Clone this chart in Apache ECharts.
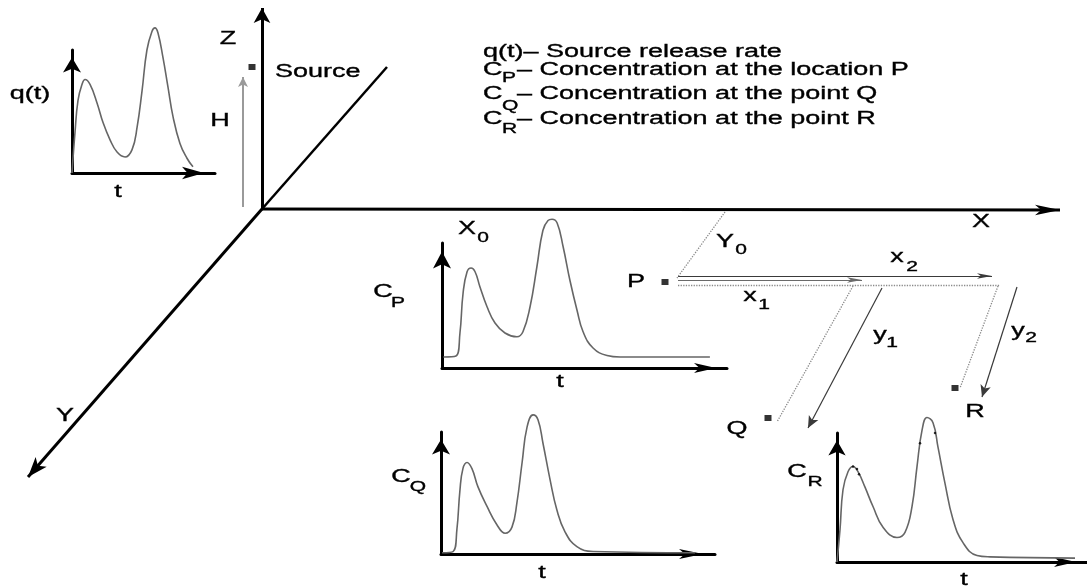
<!DOCTYPE html>
<html>
<head>
<meta charset="utf-8">
<script src="https://cdn.jsdelivr.net/npm/echarts@6/dist/echarts.min.js"></script>
<style>
  html, body { margin: 0; padding: 0; background: #fff; }
  #chart { width: 1087px; height: 586px; }
</style>
</head>
<body>
<div id="chart"></div>
<script>
// ---- Time histories (t in arbitrary units, amplitude normalised) ----
// Source release rate q(t)
const qTime = [0, 0.21, 0.42, 0.70, 0.91, 1.26, 1.75, 2.17, 2.66, 3.15, 3.71, 4.20, 4.55, 4.90, 5.24, 5.59, 5.80, 6.01, 6.36, 6.71, 7.06, 7.55, 8.04, 8.46];
const qRate = [0, 0.33, 0.59, 0.72, 0.76, 0.72, 0.57, 0.41, 0.27, 0.17, 0.13, 0.19, 0.37, 0.67, 1.00, 1.15, 1.18, 1.14, 0.94, 0.70, 0.46, 0.24, 0.12, 0.05];

// Concentration at location P
const pTime = [0.05, 0.49, 0.63, 0.74, 0.88, 1.02, 1.16, 1.33, 1.58, 1.86, 2.21, 2.63, 2.84, 3.09, 3.33, 3.54, 3.72, 3.86, 4.04, 4.25, 4.49, 4.74, 4.95, 5.30, 5.79, 6.25, 9.40];
const pConc = [0.088, 0.096, 0.28, 0.60, 0.77, 0.80, 0.77, 0.65, 0.49, 0.36, 0.28, 0.25, 0.29, 0.49, 0.81, 1.10, 1.18, 1.19, 1.16, 0.97, 0.70, 0.46, 0.29, 0.16, 0.10, 0.088, 0.088];

// Concentration at point Q
const qqTime = [0.04, 0.44, 0.58, 0.69, 0.80, 0.95, 1.13, 1.35, 1.68, 2.04, 2.34, 2.59, 2.77, 2.96, 3.14, 3.36, 3.54, 3.72, 3.98, 4.23, 4.53, 4.96, 5.55, 9.27];
const qqConc = [0.01, 0.02, 0.20, 0.52, 0.70, 0.75, 0.70, 0.55, 0.39, 0.24, 0.17, 0.22, 0.42, 0.75, 1.04, 1.14, 1.10, 0.91, 0.61, 0.36, 0.18, 0.06, 0.02, 0.01];

// Concentration at point R, plus the sampled values near the peaks
const rTime = [0, 0.12, 0.24, 0.44, 0.64, 0.84, 1.12, 1.44, 1.84, 2.40, 2.72, 3.00, 3.20, 3.40, 3.60, 3.84, 4.04, 4.32, 4.64, 5.04, 5.60, 6.12, 9.52];
const rConc = [0, 0.25, 0.56, 0.70, 0.74, 0.70, 0.58, 0.43, 0.27, 0.19, 0.23, 0.43, 0.74, 1.02, 1.12, 1.08, 0.89, 0.61, 0.33, 0.15, 0.05, 0.04, 0.03];
const rSampleTime = [0.64, 0.80, 0.88, 3.32, 3.44, 3.60, 3.72, 3.84, 3.92];
const rSampleConc = [0.74, 0.72, 0.68, 0.92, 1.10, 1.12, 1.11, 1.09, 1.00];

// ---- Scene geometry (page frame, y downward) ----
const sceneOrigin = [262, 209];
const axisZTip = [262, 8];
const axisXTip = [1060, 210];
const axisYTip = [28, 477];
const axisBackEnd = [387, 67];
const stackHeight = [[243, 207], [243, 77]];
const pathX1 = [[678, 280], [862, 280]];
const pathX2 = [[678, 276], [992, 276]];
const pathY1 = [[882, 288], [808, 428]];
const pathY2 = [[1017, 287], [982, 397]];
const guideLines = [
  [[725, 212], [677, 278]],
  [[678, 285], [1000, 285]],
  [[853, 286], [777, 422]],
  [[998, 286], [960, 388]]
];
const sitePoints = [[252, 67], [665, 282], [768, 418], [955, 388]];

const zip = (a, b) => a.map((v, i) => [v, b[i]]);

const FONT = '"Liberation Sans", Arial, Helvetica, sans-serif';
function txt(text, x, y, size, align) {
  return {
    type: 'text', x: x, y: y, scaleX: 1.5, z: 100,
    style: {
      text: text, fill: '#000', fontSize: size || 18, fontFamily: FONT,
      align: align || 'center', verticalAlign: 'middle',
      stroke: '#000', lineWidth: 0.35
    }
  };
}

// ---- Inset plots: grid boxes and arrowed axes ----
const insets = [
  { left: 72, top: 50, width: 143, height: 123, xHead: [9.5, 22], yHead: [13.5, 15] },
  { left: 442, top: 243, width: 285, height: 125, xHead: [7.5, 22], yHead: [13.5, 17] },
  { left: 441, top: 432, width: 274, height: 122, xHead: [7.5, 24], yHead: [13.5, 15] },
  { left: 837, top: 433, width: 250, height: 129, xHead: [7.5, 22], yHead: [13, 15] }
];

const grids = insets.map(g => ({ left: g.left, top: g.top, width: g.width, height: g.height, show: false }));
grids.push({ left: 0, top: 0, width: 1087, height: 586, show: false });

function insetAxis(g, i, head, max) {
  return {
    type: 'value', gridIndex: i, min: 0, max: max,
    axisLine: {
      show: true, onZero: false,
      symbol: ['none', 'arrow'], symbolSize: head, symbolOffset: [0, -head[1] / 2],
      lineStyle: { color: '#000', width: 3 }
    },
    axisTick: { show: false }, axisLabel: { show: false }, splitLine: { show: false }
  };
}

const xAxes = insets.map((g, i) => insetAxis(g, i, g.xHead, 10));
const yAxes = insets.map((g, i) => insetAxis(g, i, g.yHead, 1));
xAxes.push({ type: 'value', gridIndex: 4, min: 0, max: 1087, show: false });
yAxes.push({ type: 'value', gridIndex: 4, min: 0, max: 586, inverse: true, show: false });

const curveStyle = { color: '#666', width: 1.6 };
function curve(name, i, t, v) {
  return {
    name: name, type: 'line', xAxisIndex: i, yAxisIndex: i,
    data: zip(t, v), smooth: 0.45, showSymbol: false, clip: false,
    lineStyle: curveStyle, itemStyle: { color: curveStyle.color }, silent: true
  };
}

function arrows(segs, head, color, width, type) {
  return {
    type: 'lines', coordinateSystem: 'cartesian2d', xAxisIndex: 4, yAxisIndex: 4,
    symbol: head ? ['none', 'arrow'] : ['none', 'none'],
    symbolSize: head ? [1, head] : 1,
    lineStyle: { color: color, width: width, type: type || 'solid', opacity: 1, curveness: 0 },
    data: segs.map(s => ({ coords: s })),
    silent: true, z: 3
  };
}

const series = [
  curve('q(t)', 0, qTime, qRate),
  curve('C_P', 1, pTime, pConc),
  curve('C_Q', 2, qqTime, qqConc),
  curve('C_R', 3, rTime, rConc),
  {
    type: 'scatter', xAxisIndex: 3, yAxisIndex: 3, data: zip(rSampleTime, rSampleConc),
    symbol: 'circle', symbolSize: 2.5, itemStyle: { color: '#000' }, silent: true, z: 4
  },
  // coordinate frame
  arrows([[sceneOrigin, axisZTip]], [12.5, 15], '#000', 3),
  arrows([[sceneOrigin, axisXTip]], [8, 25], '#000', 3),
  arrows([[sceneOrigin, axisYTip]], [11, 20], '#000', 3),
  arrows([[sceneOrigin, axisBackEnd]], null, '#000', 2.5),
  // source height
  arrows([stackHeight], [7.5, 10], '#9a9a9a', 2),
  // downwind / crosswind offsets
  arrows([pathX2], [4, 15], '#3a3a3a', 1.2),
  arrows([pathX1], [4, 15], '#6a6a6a', 1.2),
  arrows([pathY1, pathY2], [8, 12], '#3a3a3a', 1.2),
  arrows(guideLines, null, '#8a8a8a', 1.3, 'dotted'),
  {
    type: 'scatter', xAxisIndex: 4, yAxisIndex: 4, data: sitePoints,
    symbol: 'rect', symbolSize: [7, 6], itemStyle: { color: '#000' }, silent: true, z: 5
  }
];

const graphic = [
  txt('Z', 228, 39),
  txt('Source', 275, 72, 18, 'left'),
  txt('H', 220, 121),
  txt('q(t)', 30, 94),
  txt('t', 118, 192),
  // key
  txt('q(t)– Source release rate', 483, 52, 18, 'left'),
  txt('C', 483, 70, 18, 'left'), txt('P', 502, 78, 14, 'left'),
  txt('– Concentration at the location P', 517, 70, 18, 'left'),
  txt('C', 483, 94, 18, 'left'), txt('Q', 502, 106, 14, 'left'),
  txt('– Concentration at the point Q', 517, 94, 18, 'left'),
  txt('C', 483, 119, 18, 'left'), txt('R', 502, 129, 14, 'left'),
  txt('– Concentration at the point R', 517, 119, 18, 'left'),
  // frame and geometry labels
  txt('X', 981, 222),
  txt('Y', 65, 416),
  txt('X', 467, 229), txt('0', 483, 238, 14),
  txt('Y', 725, 242), txt('0', 741, 250, 14),
  txt('P', 636, 282),
  txt('x', 897, 257), txt('2', 912, 267, 14),
  txt('x', 750, 296), txt('1', 764, 305, 14),
  txt('y', 880, 335), txt('1', 892, 343, 14),
  txt('y', 1018, 331), txt('2', 1031, 338, 14),
  txt('Q', 737, 429),
  txt('R', 975, 412),
  // inset labels
  txt('C', 383, 292), txt('P', 398, 303, 14),
  txt('C', 401, 477), txt('Q', 418, 487, 14),
  txt('C', 797, 472), txt('R', 815, 482, 14),
  txt('t', 560, 382),
  txt('t', 542, 573),
  txt('t', 964, 580)
];

const chart = echarts.init(document.getElementById('chart'), null, { renderer: 'canvas' });
chart.setOption({
  backgroundColor: '#fff',
  animation: false,
  grid: grids,
  xAxis: xAxes,
  yAxis: yAxes,
  series: series,
  graphic: graphic
});
</script>
</body>
</html>
